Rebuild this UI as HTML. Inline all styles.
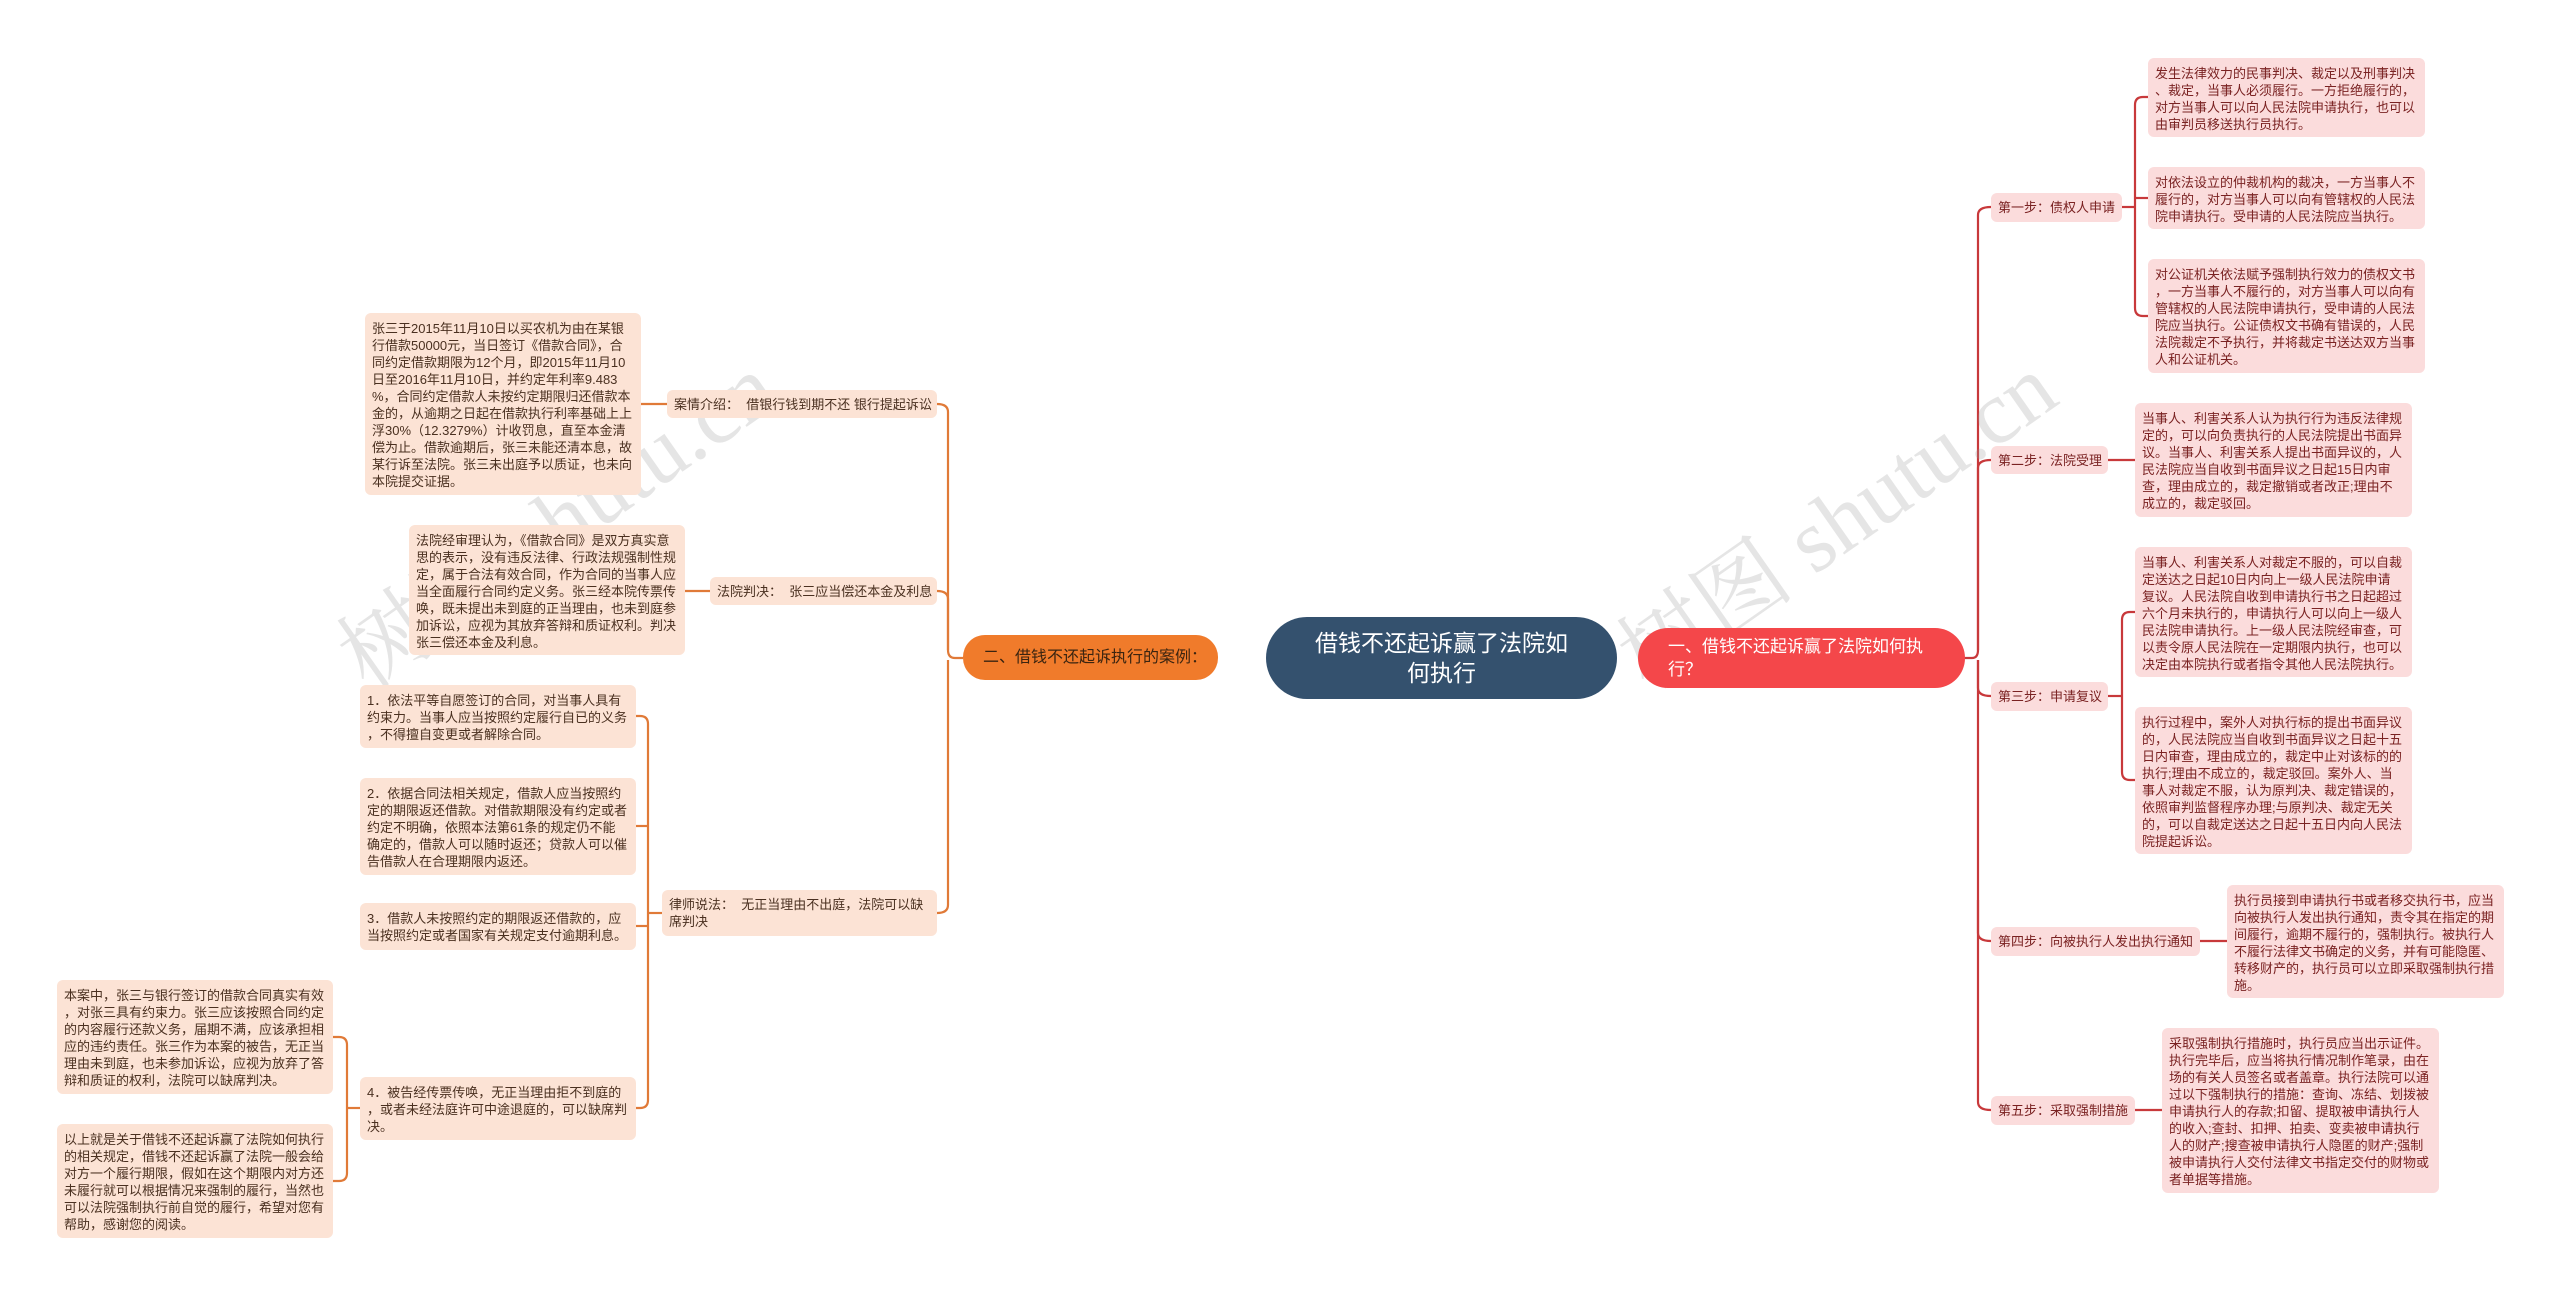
<!DOCTYPE html>
<html><head><meta charset="utf-8">
<style>
html,body{margin:0;padding:0;background:#fff;}
body{width:2560px;height:1295px;position:relative;overflow:hidden;font-family:"Liberation Sans","Noto Sans CJK SC",sans-serif;}
.n{position:absolute;box-sizing:border-box;white-space:nowrap;font-size:13px;line-height:17px;border-radius:6px;}
.r{background:#fbdcdc;color:#7a2222;padding:7px 7px;}
.l{background:#fce3d5;color:#4a3020;padding:7px 7px;}
.lab{display:flex;align-items:center;}
svg{position:absolute;left:0;top:0;}
.wm{position:absolute;color:rgba(150,150,150,0.25);font-size:90px;font-family:"Liberation Serif","Noto Serif CJK SC",serif;transform:rotate(-35deg);white-space:nowrap;}
</style></head><body>
<svg width="2560" height="1295" fill="none" stroke-width="2.2">
<g stroke="#c8393b">
<path d="M1964 658 H1972 Q1978 658 1978 650 V215 Q1978 207 1991 207"/>
<path d="M1978 650 V468 Q1978 460 1991 460"/>
<path d="M1978 660 V688 Q1978 696 1991 696"/>
<path d="M1978 660 V933 Q1978 941 1991 941"/>
<path d="M1978 900 V1102 Q1978 1110 1991 1110"/>
<path d="M2122 207 H2135"/><path d="M2148 97 H2143 Q2135 97 2135 105 V308 Q2135 316 2143 316 H2148"/><path d="M2135 198 H2148"/>
<path d="M2108 460 H2135"/>
<path d="M2108 696 H2122"/><path d="M2135 612 H2130 Q2122 612 2122 620 V772 Q2122 780 2130 780 H2135"/>
<path d="M2200 941 H2227"/>
<path d="M2135 1110 H2162"/>
</g>
<g stroke="#e07a38">
<path d="M963 658 H955 Q948 658 948 650 V412 Q948 404 937 404"/>
<path d="M948 650 V599 Q948 591 937 591"/>
<path d="M948 660 V905 Q948 913 937 913"/>
<path d="M667 404 H641"/>
<path d="M710 591 H685"/>
<path d="M662 913 H648"/><path d="M636 716 H640 Q648 716 648 724 V1100 Q648 1108 640 1108 H636"/><path d="M648 826 H636"/><path d="M648 926 H636"/>
<path d="M360 1108 H347"/><path d="M333 1037 H339 Q347 1037 347 1045 V1173 Q347 1181 339 1181 H333"/>
</g>
</svg>
<div class="wm" style="left:300px;top:450px;">树图 shutu.cn</div>
<div class="wm" style="left:1580px;top:450px;">树图 shutu.cn</div>

<div class="n" style="left:1266px;top:617px;width:351px;height:82px;border-radius:41px;background:#34516e;color:#fff;font-size:23px;line-height:30px;display:flex;align-items:center;justify-content:center;text-align:center;">借钱不还起诉赢了法院如<br>何执行</div>
<div class="n" style="left:1638px;top:628px;width:327px;height:60px;border-radius:30px;background:#f4474a;color:#fff;font-size:17px;line-height:23px;padding:8px 20px 8px 30px;display:flex;align-items:center;">一、借钱不还起诉赢了法院如何执<br>行？</div>
<div class="n lab" style="left:963px;top:635px;width:255px;height:45px;border-radius:22px;background:#f07b2b;color:#3a2410;font-size:16px;padding:0 20px;">二、借钱不还起诉执行的案例：</div>

<div class="n r lab" style="left:1991px;top:193px;width:131px;height:29px;">第一步：债权人申请</div>
<div class="n r lab" style="left:1991px;top:446px;width:117px;height:28px;">第二步：法院受理</div>
<div class="n r lab" style="left:1991px;top:682px;width:117px;height:29px;">第三步：申请复议</div>
<div class="n r lab" style="left:1991px;top:927px;width:209px;height:29px;">第四步：向被执行人发出执行通知</div>
<div class="n r lab" style="left:1991px;top:1096px;width:144px;height:29px;">第五步：采取强制措施</div>

<div class="n r" style="left:2148px;top:58px;width:277px;height:79px;">发生法律效力的民事判决、裁定以及刑事判决<br>、裁定，当事人必须履行。一方拒绝履行的，<br>对方当事人可以向人民法院申请执行，也可以<br>由审判员移送执行员执行。</div>
<div class="n r" style="left:2148px;top:167px;width:277px;height:62px;">对依法设立的仲裁机构的裁决，一方当事人不<br>履行的，对方当事人可以向有管辖权的人民法<br>院申请执行。受申请的人民法院应当执行。</div>
<div class="n r" style="left:2148px;top:259px;width:277px;height:114px;">对公证机关依法赋予强制执行效力的债权文书<br>，一方当事人不履行的，对方当事人可以向有<br>管辖权的人民法院申请执行，受申请的人民法<br>院应当执行。公证债权文书确有错误的，人民<br>法院裁定不予执行，并将裁定书送达双方当事<br>人和公证机关。</div>
<div class="n r" style="left:2135px;top:403px;width:277px;height:114px;">当事人、利害关系人认为执行行为违反法律规<br>定的，可以向负责执行的人民法院提出书面异<br>议。当事人、利害关系人提出书面异议的，人<br>民法院应当自收到书面异议之日起15日内审<br>查，理由成立的，裁定撤销或者改正;理由不<br>成立的，裁定驳回。</div>
<div class="n r" style="left:2135px;top:547px;width:277px;height:130px;">当事人、利害关系人对裁定不服的，可以自裁<br>定送达之日起10日内向上一级人民法院申请<br>复议。人民法院自收到申请执行书之日起超过<br>六个月未执行的，申请执行人可以向上一级人<br>民法院申请执行。上一级人民法院经审查，可<br>以责令原人民法院在一定期限内执行，也可以<br>决定由本院执行或者指令其他人民法院执行。</div>
<div class="n r" style="left:2135px;top:707px;width:277px;height:147px;">执行过程中，案外人对执行标的提出书面异议<br>的，人民法院应当自收到书面异议之日起十五<br>日内审查，理由成立的，裁定中止对该标的的<br>执行;理由不成立的，裁定驳回。案外人、当<br>事人对裁定不服，认为原判决、裁定错误的，<br>依照审判监督程序办理;与原判决、裁定无关<br>的，可以自裁定送达之日起十五日内向人民法<br>院提起诉讼。</div>
<div class="n r" style="left:2227px;top:885px;width:277px;height:113px;">执行员接到申请执行书或者移交执行书，应当<br>向被执行人发出执行通知，责令其在指定的期<br>间履行，逾期不履行的，强制执行。被执行人<br>不履行法律文书确定的义务，并有可能隐匿、<br>转移财产的，执行员可以立即采取强制执行措<br>施。</div>
<div class="n r" style="left:2162px;top:1028px;width:277px;height:165px;">采取强制执行措施时，执行员应当出示证件。<br>执行完毕后，应当将执行情况制作笔录，由在<br>场的有关人员签名或者盖章。执行法院可以通<br>过以下强制执行的措施：查询、冻结、划拨被<br>申请执行人的存款;扣留、提取被申请执行人<br>的收入;查封、扣押、拍卖、变卖被申请执行<br>人的财产;搜查被申请执行人隐匿的财产;强制<br>被申请执行人交付法律文书指定交付的财物或<br>者单据等措施。</div>

<div class="n l lab" style="left:667px;top:390px;width:270px;height:28px;">案情介绍：&nbsp; 借银行钱到期不还 银行提起诉讼</div>
<div class="n l lab" style="left:710px;top:577px;width:227px;height:28px;">法院判决：&nbsp; 张三应当偿还本金及利息</div>
<div class="n l" style="left:662px;top:890px;width:275px;height:46px;padding:6px 7px;">律师说法：&nbsp; 无正当理由不出庭，法院可以缺<br>席判决</div>

<div class="n l" style="left:365px;top:313px;width:276px;height:182px;">张三于2015年11月10日以买农机为由在某银<br>行借款50000元，当日签订《借款合同》，合<br>同约定借款期限为12个月，即2015年11月10<br>日至2016年11月10日，并约定年利率9.483<br>%，合同约定借款人未按约定期限归还借款本<br>金的，从逾期之日起在借款执行利率基础上上<br>浮30%（12.3279%）计收罚息，直至本金清<br>偿为止。借款逾期后，张三未能还清本息，故<br>某行诉至法院。张三未出庭予以质证，也未向<br>本院提交证据。</div>
<div class="n l" style="left:409px;top:525px;width:276px;height:130px;">法院经审理认为，《借款合同》是双方真实意<br>思的表示，没有违反法律、行政法规强制性规<br>定，属于合法有效合同，作为合同的当事人应<br>当全面履行合同约定义务。张三经本院传票传<br>唤，既未提出未到庭的正当理由，也未到庭参<br>加诉讼，应视为其放弃答辩和质证权利。判决<br>张三偿还本金及利息。</div>
<div class="n l" style="left:360px;top:685px;width:276px;height:63px;">1．依法平等自愿签订的合同，对当事人具有<br>约束力。当事人应当按照约定履行自已的义务<br>，不得擅自变更或者解除合同。</div>
<div class="n l" style="left:360px;top:778px;width:276px;height:97px;">2．依据合同法相关规定，借款人应当按照约<br>定的期限返还借款。对借款期限没有约定或者<br>约定不明确，依照本法第61条的规定仍不能<br>确定的，借款人可以随时返还；贷款人可以催<br>告借款人在合理期限内返还。</div>
<div class="n l" style="left:360px;top:903px;width:276px;height:47px;">3．借款人未按照约定的期限返还借款的，应<br>当按照约定或者国家有关规定支付逾期利息。</div>
<div class="n l" style="left:360px;top:1077px;width:276px;height:63px;">4．被告经传票传唤，无正当理由拒不到庭的<br>，或者未经法庭许可中途退庭的，可以缺席判<br>决。</div>
<div class="n l" style="left:57px;top:980px;width:276px;height:114px;">本案中，张三与银行签订的借款合同真实有效<br>，对张三具有约束力。张三应该按照合同约定<br>的内容履行还款义务，届期不满，应该承担相<br>应的违约责任。张三作为本案的被告，无正当<br>理由未到庭，也未参加诉讼，应视为放弃了答<br>辩和质证的权利，法院可以缺席判决。</div>
<div class="n l" style="left:57px;top:1124px;width:276px;height:114px;">以上就是关于借钱不还起诉赢了法院如何执行<br>的相关规定，借钱不还起诉赢了法院一般会给<br>对方一个履行期限，假如在这个期限内对方还<br>未履行就可以根据情况来强制的履行，当然也<br>可以法院强制执行前自觉的履行，希望对您有<br>帮助，感谢您的阅读。</div>
</body></html>
